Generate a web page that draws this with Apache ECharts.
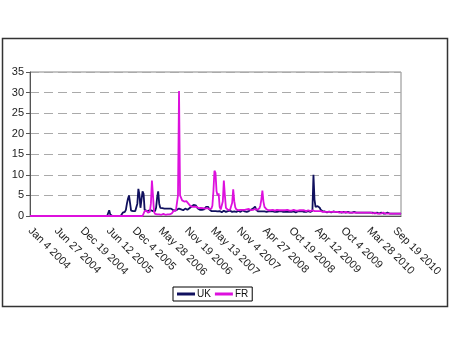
<!DOCTYPE html>
<html><head><meta charset="utf-8">
<script src="https://cdn.jsdelivr.net/npm/echarts@6/dist/echarts.min.js"></script>
<style>html,body{margin:0;padding:0;background:#fff}#c{width:450px;height:337px}</style>
</head><body><div id="c"></div>
<script>
var startDate = [2004, 0, 4];
var weekCount = 357;
var seriesNames = ['UK', 'FR'];
var yTicks = [0, 5, 10, 15, 20, 25, 30, 35];
var ukValues = [
0,0,0,0,0,0,0,0,0,0,0,0,0,0,0,0,0,0,0,0,0,0,0,0,0,
0,0,0,0,0,0,0,0,0,0,0,0,0,0,0,0,0,0,0,0,0,0,0,0,0,
0,0,0,0,0,0,0,0,0,0,0,0,0,0,0,0,0,0,0,0,0,0,0,0,0,
0.3,1.4,0.4,0,0,0,0,0,0,0,0,0,0,0,0.8,1,1,1.5,3,4.2,5,3.2,1.3,1.2,1.2,
1.1,1.2,1.3,3,6.6,5.2,2,1.8,6,5.4,1.5,1.3,1.2,1.2,1.3,1.2,1.4,1.3,1.2,1.3,1.2,2,4.5,6,3,
2,1.8,1.9,1.8,1.8,1.7,1.8,1.9,1.8,1.7,1.8,1.9,1.5,1.4,1.3,1.4,1.5,1.6,1.8,2,1.6,1.5,1.4,1.6,1.8,
1.7,1.5,1.6,1.9,2.1,2.3,2.5,2.7,2.9,2.6,2.2,1.8,1.6,1.5,1.7,1.5,1.4,1.6,1.8,2.2,2.5,2.2,1.6,1.3,1.2,
1.1,1.2,1.4,1.2,1.0,1.1,1.3,1.2,1.0,0.9,1.1,1.3,1.2,1.0,1.1,1.2,1.4,1.3,1.1,1.0,1.2,1.1,0.9,1.0,1.2,
1.3,1.1,1.0,1.2,1.4,1.2,1.1,0.9,1.0,1.1,1.2,1.3,1.5,1.6,1.8,2.0,2.3,1.5,1.2,1.1,1.0,1.1,1.2,1.1,1.0,
1.1,1.2,1.0,0.9,1.1,1.2,1.1,1.0,1.1,1.2,1.0,1.1,1.0,0.9,1.1,1.0,1.2,1.1,1.0,1.1,1.0,0.9,1.0,1.1,1.0,
1.1,1.0,1.2,1.1,1.0,0.9,1.0,1.1,1.0,1.1,1.0,1.2,1.1,1.0,1.1,1.0,1.1,1.2,1.1,1.0,1.1,1.3,10,4,2.2,
2,2.4,2.7,2,1.5,1.2,1.1,1.0,1.1,1.0,0.9,1.0,1.1,1.0,0.9,1.0,1.1,0.9,1.0,0.9,1.0,0.9,1.0,0.9,0.8,
0.9,1.0,0.9,0.8,0.9,1.0,0.9,0.8,0.9,0.8,0.9,1.0,0.9,0.8,0.7,0.8,0.9,0.8,0.7,0.8,0.9,0.8,0.7,0.8,0.7,
0.8,0.9,0.8,0.7,0.8,0.7,0.6,0.7,0.8,0.7,0.6,0.7,0.8,0.7,0.6,0.7,0.6,0.7,0.8,0.7,0.6,0.7,0.6,0.5,0.6,
0.7,0.6,0.5,0.6,0.5,0.6,0.5
];
var frValues = [
0,0,0,0,0,0,0,0,0,0,0,0,0,0,0,0,0,0,0,0,0,0,0,0,0,
0,0,0,0,0,0,0,0,0,0,0,0,0,0,0,0,0,0,0,0,0,0,0,0,0,
0,0,0,0,0,0,0,0,0,0,0,0,0,0,0,0,0,0,0,0,0,0,0,0,0,
0,0,0,0,0,0,0,0,0,0,0,0,0,0,0,0,0,0,0,0,0,0,0,0,0,
0,0,0,0,0,0,0,0,0,0,1.2,1.5,1.3,0.8,0.6,1,3,8.6,5,1,0.5,0.4,0.4,0.3,0.4,
0.4,0.3,0.4,0.5,0.4,0.3,0.4,0.4,0.3,0.4,0.5,0.6,1,1.3,1.4,1.3,1.5,5,30.4,5,4.7,3.8,3.6,3.5,3.4,
3.6,3.3,3,2.6,2.4,2.5,2.2,2.1,2.3,2.4,2.2,2,1.9,2.1,2,1.8,1.9,2,1.8,1.7,1.9,1.8,1.7,1.6,1.8,
2.5,6,11,10.5,6,5,5.5,2.2,1.6,1.5,3.5,8.6,5,2,1.6,1.5,1.4,1.5,1.6,3.2,6.5,3.6,2.1,1.6,1.5,
1.4,1.6,1.5,1.4,1.5,1.6,1.5,1.4,1.6,1.5,1.7,1.5,1.4,1.6,1.5,1.6,1.7,1.6,1.5,1.6,1.8,2.5,4,6.2,3.5,
2.2,1.8,1.6,1.5,1.4,1.5,1.4,1.3,1.5,1.4,1.3,1.4,1.5,1.3,1.4,1.3,1.4,1.5,1.4,1.3,1.4,1.3,1.5,1.4,1.3,
1.4,1.3,1.4,1.5,1.4,1.3,1.4,1.3,1.2,1.4,1.3,1.4,1.5,1.4,1.3,1.2,1.3,1.4,1.3,1.2,1.3,1.4,1.3,1.2,1.3,
1.2,1.3,1.2,1.1,1.2,1.1,1.0,1.1,1.0,0.9,1.0,1.1,1.0,0.9,1.0,0.9,1.0,1.1,1.0,0.9,1.0,0.9,0.8,0.9,1.0,
0.9,0.8,0.9,1.0,0.9,0.8,0.9,0.8,0.9,0.8,0.7,0.8,0.9,0.8,0.9,0.8,0.7,0.8,0.7,0.8,0.9,0.8,0.7,0.8,0.7,
0.8,0.7,0.8,0.7,0.6,0.7,0.8,0.7,0.6,0.7,0.6,0.7,0.6,0.7,0.8,0.7,0.6,0.7,0.6,0.7,0.6,0.7,0.6,0.7,0.6,
0.7,0.6,0.7,0.6,0.5,0.6,0.6
];
var monthNames = ['Jan','Feb','Mar','Apr','May','Jun','Jul','Aug','Sep','Oct','Nov','Dec'];
var categories = [];
var t0 = Date.UTC(startDate[0], startDate[1], startDate[2]);
for (var i = 0; i < weekCount; i++) {
  var d = new Date(t0 + i * 7 * 86400000);
  categories.push(monthNames[d.getUTCMonth()] + ' ' + d.getUTCDate() + ' ' + d.getUTCFullYear());
}
var chart = echarts.init(document.getElementById('c'));
var font = 'Liberation Sans, Arial, sans-serif';
chart.setOption({
  animation: false,
  backgroundColor: '#fff',
  graphic: [{type:'rect', shape:{x:2.5, y:38.5, width:445, height:268}, style:{fill:'none', stroke:'#333', lineWidth:1.5}, z:-1}],
  grid: {left:30, top:72, right:49, bottom:121, show:true, borderColor:'#888', borderWidth:1},
  legend: {
    data: seriesNames, left:173, top:287, padding:[2,4], itemGap:4, itemWidth:18, itemHeight:3,
    icon:'rect', borderColor:'#000', borderWidth:1,
    textStyle:{fontFamily:font, fontSize:10, color:'#111', padding:[0,0,0,-3]}
  },
  xAxis: {
    type:'category', data:categories, boundaryGap:false,
    axisLine:{lineStyle:{color:'#555'}},
    axisTick:{show:false},
    axisLabel:{interval:24, rotate:-45, margin:13, fontFamily:font, fontSize:11, color:'#222'},
    splitLine:{show:false}
  },
  yAxis: {
    type:'value', min:yTicks[0], max:yTicks[yTicks.length-1], interval:5,
    axisLine:{show:true, lineStyle:{color:'#555'}},
    axisTick:{show:true, length:4, lineStyle:{color:'#555'}},
    axisLabel:{fontFamily:font, fontSize:11, color:'#222', margin:6},
    splitLine:{lineStyle:{color:'#aaa', type:[9,5], width:1}}
  },
  series: [
    {name:seriesNames[0], type:'line', data:ukValues, showSymbol:false, lineStyle:{color:'#10105e', width:1.8}, itemStyle:{color:'#10105e'}},
    {name:seriesNames[1], type:'line', data:frValues, showSymbol:false, lineStyle:{color:'#dd10dd', width:1.8}, itemStyle:{color:'#dd10dd'}}
  ]
});
</script></body></html>
